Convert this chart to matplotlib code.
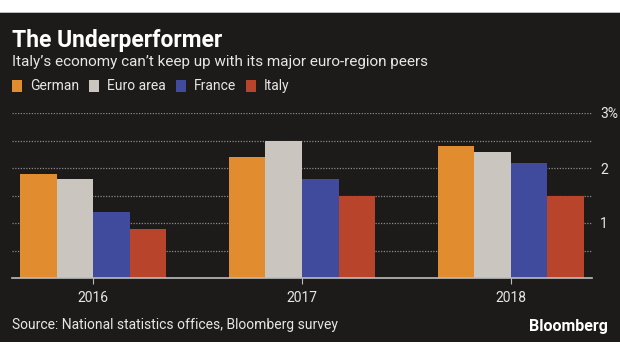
import matplotlib
matplotlib.use('Agg')
import matplotlib.pyplot as plt
import numpy as np
from matplotlib.patches import Rectangle

# data
years = ['2016', '2017', '2018']
series = ['German', 'Euro area', 'France', 'Italy']
german = [1.9, 2.2, 2.4]
euro_area = [1.8, 2.5, 2.3]
france = [1.2, 1.8, 2.1]
italy = [0.9, 1.5, 1.5]
values = [german, euro_area, france, italy]
colors = ['#e08c2f', '#cbc5c0', '#414b9e', '#b9442c']

plt.rcParams['font.family'] = ['Roboto', 'DejaVu Sans']

bg = '#1c1b19'
txt = '#e6e6e6'

fig = plt.figure(figsize=(6.2, 3.55), dpi=100)
fig.patch.set_facecolor('white')
# dark panel
fig.patches.append(Rectangle((0, 13/355), 1, 330/355, transform=fig.transFigure,
                             facecolor=bg, edgecolor='none', zorder=-2))
fig.patches.append(Rectangle((0, 342/355), 1, 1.5/355, transform=fig.transFigure,
                             facecolor='#bcbcbc', edgecolor='none', zorder=-2))

ax = fig.add_axes([12/620, 1 - 278/355, 580/620, 165/355])
ax.set_facecolor('none')

x = np.arange(len(years))
w = 0.175
for i, (name, vals) in enumerate(zip(series, values)):
    ax.bar(x + (i - 1.5) * w, vals, width=w, color=colors[i], zorder=3)

ax.set_xlim(-0.39, 2.39)
ax.set_ylim(0, 3)
for yv in np.arange(0.5, 3.01, 0.5):
    ax.axhline(yv, color='#8a8a8a', lw=0.9, ls=(0, (1, 1.2)), zorder=1)

for s in ['top', 'left', 'right']:
    ax.spines[s].set_visible(False)
ax.spines['bottom'].set_color('#bdbdbd')
ax.spines['bottom'].set_linewidth(1.2)
ax.spines['bottom'].set_zorder(4)

ax.set_xticks(x)
ax.set_xticklabels(years, color=txt, fontsize=10)
ax.tick_params(axis='x', length=4, color='#bdbdbd', pad=5)
ax.yaxis.tick_right()
ax.set_yticks([1, 2, 3])
ax.set_yticklabels(['1', '2', '3%'], color=txt, fontsize=10)
ax.tick_params(axis='y', length=0, pad=6)

# titles
fig.text(12/620, 1 - 40/355, 'The Underperformer', color='white', fontsize=16.5,
         fontweight='bold', va='center', ha='left')
fig.text(12/620, 1 - 62/355, 'Italy\u2019s economy can\u2019t keep up with its major euro-region peers',
         color=txt, fontsize=11, va='center', ha='left')

# legend
lx = 12
for name, c in zip(series, colors):
    fig.patches.append(Rectangle((lx/620, 1 - 92/355), 10/620, 12/355, transform=fig.transFigure,
                                 facecolor=c, edgecolor='none'))
    t = fig.text((lx + 18)/620, 1 - 86/355, name, color=txt, fontsize=10, va='center', ha='left')
    fig.canvas.draw()
    bb = t.get_window_extent()
    lx = bb.x1 + 10

fig.text(12/620, 1 - 325/355, 'Source: National statistics offices, Bloomberg survey',
         color=txt, fontsize=10, va='center', ha='left')
fig.text(608/620, 1 - 327/355, 'Bloomberg', color='white', fontsize=11.5,
         fontweight='bold', va='center', ha='right')

fig.savefig('out.png', dpi=100, facecolor=fig.get_facecolor())
